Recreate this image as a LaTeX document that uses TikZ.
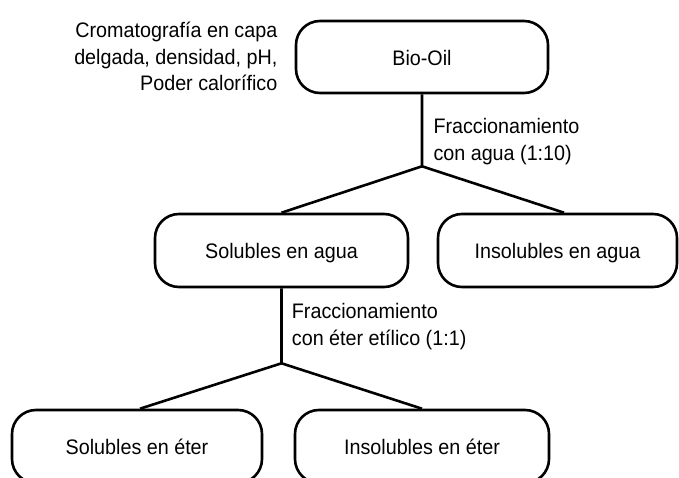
\documentclass[tikz,border=0pt]{standalone}
\usepackage{fontspec}
\setmainfont[FakeStretch=0.94]{Liberation Sans}
\usetikzlibrary{calc}
\begin{document}
\begin{tikzpicture}[x=1pt,y=-1pt,
  txt/.style={font=\fontsize{21}{26.7}\selectfont},
  box/.style={txt, draw, line width=2.6pt, rounded corners=24pt,
    minimum height=73pt, inner sep=0pt, text height=16.5pt, text depth=0pt},
  lbl/.style={txt, inner sep=0pt},
  conn/.style={line width=2.6pt}]
\useasboundingbox (0,0) rectangle (679,478);
\clip (0,0) rectangle (679,478);
\node[box, minimum width=252pt, minimum height=72pt] (bio) at (422,57) {Bio-Oil};
\node[box, minimum width=253pt] (sa) at (281.5,250.5) {Solubles en agua};
\node[box, minimum width=239pt] (ia) at (557.5,250.5) {Insolubles en agua};
\node[box, minimum width=250pt] (se) at (137,446.5) {Solubles en éter};
\node[box, minimum width=254pt] (ie) at (422,446.5) {Insolubles en éter};
\node[lbl, align=right, anchor=north east] (prop) at (277.5,21.7)
  {Cromatografía en capa\\delgada, densidad, pH,\\Poder calorífico};
\node[lbl, align=left, anchor=north west] (f1) at (433.3,118.2)
  {Fraccionamiento\\con agua (1:10)};
\node[lbl, align=left, anchor=north west] (f2) at (291.7,303.2)
  {Fraccionamiento\\con éter etílico (1:1)};
\coordinate (j1) at ($(bio.south)+(0,72)$);
\coordinate (j2) at ($(sa.south)+(0,75)$);
\draw[conn] (bio.south) -- (j1) -- (sa.north);
\draw[conn] (j1) -- ($(ia.north)+(6.5,0)$);
\draw[conn] (sa.south) -- (j2) -- ($(se.north)+(3,0)$);
\draw[conn] (j2) -- (ie.north);
\end{tikzpicture}
\end{document}
